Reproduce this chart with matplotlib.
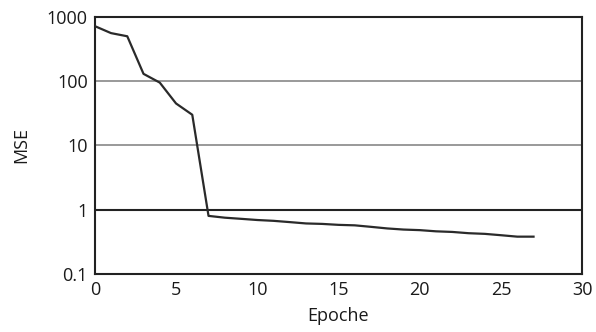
import numpy as np
import matplotlib.pyplot as plt
from matplotlib.ticker import FixedLocator, FixedFormatter, NullLocator

# MSE par epoche
epoche = list(range(28))
mse = [720, 560, 500, 130, 95, 45, 30, 0.8, 0.75, 0.72, 0.69, 0.67, 0.64, 0.61,
       0.6, 0.58, 0.57, 0.54, 0.51, 0.49, 0.48, 0.46, 0.45, 0.43, 0.42, 0.40,
       0.38, 0.38]

y_ticks = [0.1, 1, 10, 100, 1000]
y_labels = ["0.1", "1", "10", "100", "1000"]
x_ticks = [0, 5, 10, 15, 20, 25, 30]

plt.rcParams['font.family'] = ['Open Sans', 'DejaVu Sans']

fig = plt.figure(figsize=(5.96, 3.32), dpi=100)
ax = fig.add_axes([0.159, 0.175, 0.818, 0.774])

for v in [10, 100]:
    ax.axhline(v, color='#888888', lw=1.2, zorder=1)
ax.axhline(1, color='#222222', lw=1.5, zorder=1)

ax.plot(epoche, mse, color='#2a2a2a', lw=1.6, zorder=3)

ax.set_yscale('log')
ax.set_ylim(0.1, 1000)
ax.set_xlim(0, 30)
ax.yaxis.set_major_locator(FixedLocator(y_ticks))
ax.yaxis.set_major_formatter(FixedFormatter(y_labels))
ax.yaxis.set_minor_locator(NullLocator())
ax.set_xticks(x_ticks)
ax.tick_params(length=0, labelsize=13, pad=5, labelcolor='#1a1a1a')

for s in ax.spines.values():
    s.set_color('#222222')
    s.set_linewidth(1.5)

ax.set_xlabel("Epoche", fontsize=13, labelpad=6, color='#1a1a1a')
ax.set_ylabel("MSE", fontsize=13, labelpad=12, color='#1a1a1a')

fig.savefig("out.png", dpi=100)
